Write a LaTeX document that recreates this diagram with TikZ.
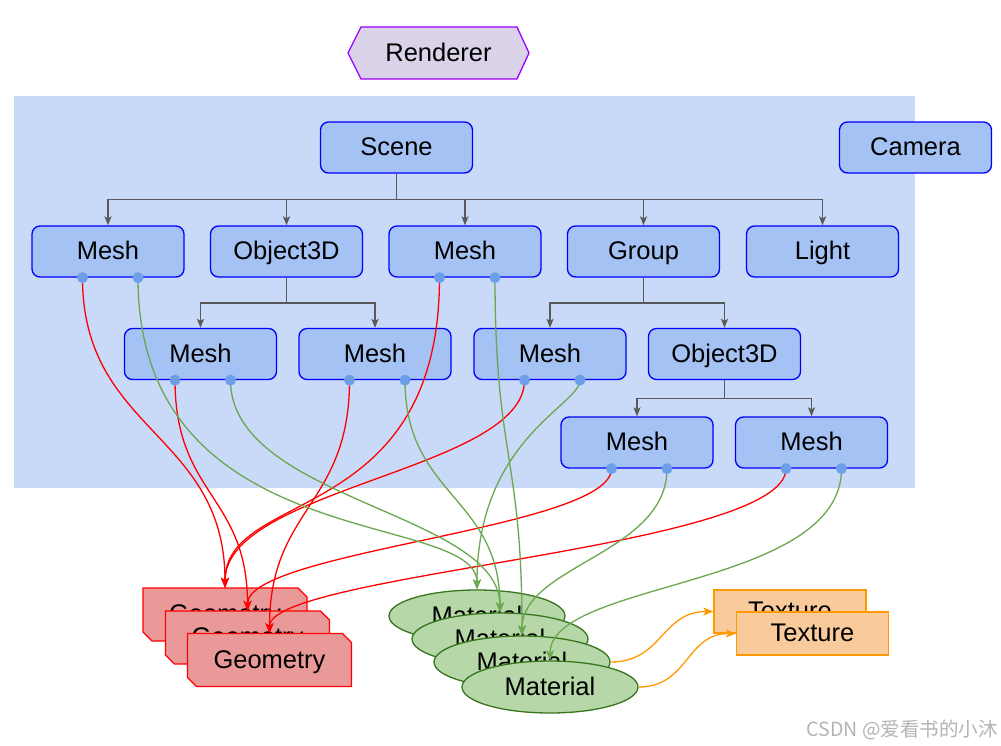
\documentclass[tikz,border=0pt]{standalone}
\usepackage{fontspec}
\setmainfont{Liberation Sans}
\newfontfamily\cjkfont{Noto Sans CJK SC}
\usetikzlibrary{arrows.meta,shapes.geometric,calc}

\definecolor{bgblue}{HTML}{C9DAF8}
\definecolor{nodeblue}{HTML}{A4C2F4}
\definecolor{dotblue}{HTML}{6D9EEB}
\definecolor{treegray}{HTML}{595959}
\definecolor{rendfill}{HTML}{D9D2E9}
\definecolor{rendline}{HTML}{9900FF}
\definecolor{geofill}{HTML}{EA9999}
\definecolor{matfill}{HTML}{B6D7A8}
\definecolor{matline}{HTML}{38761D}
\definecolor{texfill}{HTML}{F9CB9C}
\definecolor{texline}{HTML}{FF9900}
\definecolor{greenedge}{HTML}{6AA84F}
\definecolor{wmgray}{HTML}{B4B4B4}

\newcommand\geoshape[3]{%
  \path[draw=red, fill=geofill, line width=1.3pt]
    (#2-82,#3-26.5) -- (#2+73,#3-26.5) -- (#2+82,#3-17.5) -- (#2+82,#3+26.5)
    -- (#2-73,#3+26.5) -- (#2-82,#3+17.5) -- cycle;
  \node[minimum width=164pt, minimum height=53pt] (#1) at (#2,#3) {Geometry};}

\begin{document}
\begin{tikzpicture}[x=1pt,y=-1pt,
  every node/.style={font=\fontsize{25.5}{30}\selectfont, inner sep=0pt,
    text height=18.3pt, text depth=2pt},
  obj/.style={draw=blue, fill=nodeblue, line width=1.3pt, rounded corners=8pt,
    minimum width=152pt, minimum height=51pt},
  mat/.style={ellipse, draw=matline, fill=matfill, line width=1.3pt,
    minimum width=176pt, minimum height=52pt},
  tex/.style={draw=texline, fill=texfill, line width=1.3pt,
    minimum width=152pt, minimum height=43pt},
  tree/.style={draw=treegray, line width=1.5pt, -{Stealth[length=9pt,width=7pt,inset=2pt]}},
  redge/.style={draw=red, line width=1.3pt, -{Stealth[length=10pt,width=8pt,inset=2.5pt]}},
  gedge/.style={draw=greenedge, line width=1.3pt, -{Stealth[length=10pt,width=8pt,inset=2.5pt]}},
  oedge/.style={draw=texline, line width=1.3pt, -{Stealth[length=10pt,width=8pt,inset=2.5pt]}}
]
\useasboundingbox (0,0) rectangle (1001,746);
\fill[white] (0,0) rectangle (1001,746);

% background panel
\fill[bgblue] (14,96) rectangle (915,488);

% Renderer
\path[draw=rendline, fill=rendfill, line width=1.3pt]
  (348,53) -- (361,27) -- (517,27) -- (529,53) -- (517,79) -- (361,79) -- cycle;
\node[minimum width=181pt, minimum height=52pt] (ren) at (438.5,53) {Renderer};

% scene graph
\node[obj] (scene) at (396.5,147.5) {Scene};
\node[obj] (cam) at (915.5,147.5) {Camera};

\node[obj] (m1) at (108,251.5) {Mesh};
\node[obj] (o1) at (286.5,251.5) {Object3D};
\node[obj] (m2) at (465,251.5) {Mesh};
\node[obj] (gr) at (643.5,251.5) {Group};
\node[obj] (li) at (822.5,251.5) {Light};

\node[obj] (m3) at (200.5,354) {Mesh};
\node[obj] (m4) at (375,354) {Mesh};
\node[obj] (m5) at (550,354) {Mesh};
\node[obj] (o2) at (724.5,354) {Object3D};

\node[obj] (m6) at (637,442.5) {Mesh};
\node[obj] (m7) at (811.5,442.5) {Mesh};

% tree connectors
\coordinate (js) at ($(scene.south)!.5!(scene.south |- m1.north)$);
\foreach \c in {m1,o1,m2,gr,li} \draw[tree] (scene.south) -- (js) -| (\c.north);
\coordinate (jo) at ($(o1.south)!.5!(o1.south |- m3.north)$);
\foreach \c in {m3,m4} \draw[tree] (o1.south) -- (jo) -| (\c.north);
\coordinate (jg) at ($(gr.south)!.5!(gr.south |- m5.north)$);
\foreach \c in {m5,o2} \draw[tree] (gr.south) -- (jg) -| (\c.north);
\coordinate (jp) at ($(o2.south)!.5!(o2.south |- m6.north)$);
\foreach \c in {m6,m7} \draw[tree] (o2.south) -- (jp) -| (\c.north);

% dot coordinates
\foreach \m in {m1,m2,m3,m4,m5,m6,m7} {
  \coordinate (\m a) at ($(\m.south)+(-25.5,0)$);
  \coordinate (\m b) at ($(\m.south)+(30,0)$);
}

% geometries
\geoshape{g1}{225}{614.5}
\geoshape{g2}{247.5}{637.5}
\geoshape{g3}{269.5}{660}

% materials
\node[mat] (ma1) at (477,616) {Material};
\node[mat] (ma2) at (500,639) {Material};
\node[mat] (ma3) at (522,662) {Material};
\node[mat] (ma4) at (550,687) {Material};

% textures
\node[tex] (t1) at (790,611.5) {Texture};
\node[tex] (t2) at (812.5,633.5) {Texture};

% red connectors (geometry)
\draw[redge] (m1a) .. controls +(0,155) and +(0,-155) .. (g1.north);
\draw[redge] (m2a) .. controls +(0,250) and +(0,-100) .. (g1.north);
\draw[redge] (m5a) .. controls +(0,90) and +(0,-100) .. (g1.north);
\draw[redge] (m3a) .. controls +(0,115) and +(0,-115) .. (g2.north);
\draw[redge] (m6a) .. controls +(0,60) and +(0,-60) .. (g2.north);
\draw[redge] (m4a) .. controls +(0,126) and +(0,-126) .. (g3.north);
\draw[redge] (m7a) .. controls +(0,80) and +(0,-60) .. (g3.north);

% green connectors (material)
\draw[gedge] (m1b) .. controls +(0,280) and +(0,-80) .. (ma1.north);
\draw[gedge] (m3b) .. controls +(0,120) and +(0,-100) .. (ma2.north);
\draw[gedge] (m4b) .. controls +(0,116) and +(0,-116) .. (ma2.north);
\draw[gedge] (m2b) .. controls +(0,180) and +(0,-180) .. (ma3.north);
\draw[gedge] (m5b) .. controls +(0,25) and +(0,-150) .. (ma1.north);
\draw[gedge] (m6b) .. controls +(0,85) and +(0,-70) .. (ma3.north);
\draw[gedge] (m7b) .. controls +(0,120) and +(0,-80) .. (ma4.north);

% orange connectors (texture)
\draw[oedge] (ma3.east) .. controls +(52,0) and +(-52,0) .. (t1.west);
\draw[oedge] (ma4.east) .. controls +(50,0) and +(-50,0) .. (t2.west);

% connection dots
\foreach \m in {m1,m2,m3,m4,m5,m6,m7} {
  \fill[dotblue] (\m a) circle (5.5);
  \fill[dotblue] (\m b) circle (5.5);
}

% watermark
\node[anchor=east, text=wmgray, font=\cjkfont\fontsize{19.5}{22}\selectfont] (wm) at (998,728) {CSDN @爱看书的小沐};
\end{tikzpicture}
\end{document}
